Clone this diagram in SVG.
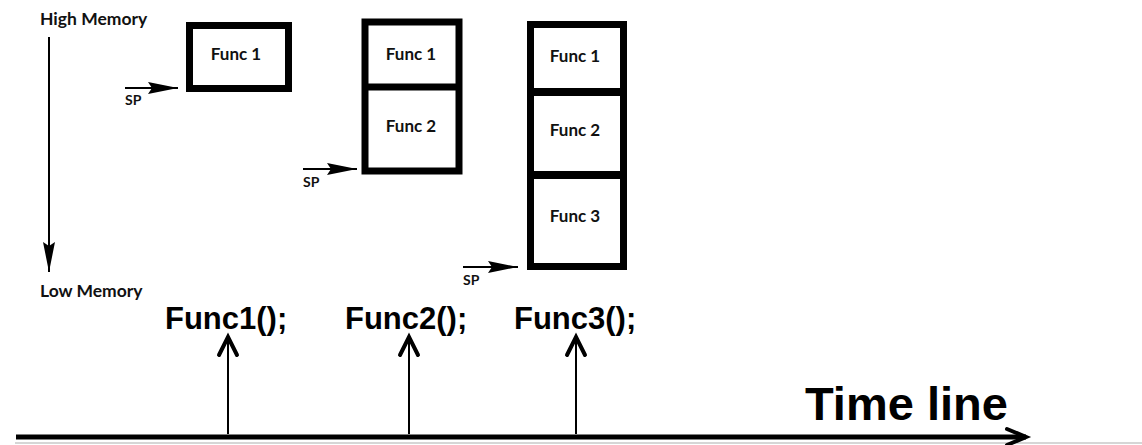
<svg xmlns="http://www.w3.org/2000/svg" width="1142" height="445" viewBox="0 0 1142 445">
<style>
.lbl{font-family:Lato,"Open Sans","Liberation Sans",sans-serif;font-weight:bold;fill:#111;}
.mem{font-size:17.5px;}
.fn{font-size:17px;text-anchor:middle;}
.sp{font-size:14px;}
.big{font-family:"Liberation Sans",Arial,sans-serif;font-weight:bold;fill:#000;}
.box{fill:#fff;stroke:#000;stroke-width:7;}
.thin{stroke:#000;stroke-width:2;fill:none;}
.chev{stroke:#000;stroke-width:4;fill:none;stroke-linecap:round;stroke-linejoin:miter;}
</style>
<defs>
<marker id="tri2" viewBox="0 0 30 12" refX="30" refY="6" markerWidth="30" markerHeight="12" markerUnits="userSpaceOnUse" orient="auto">
<path d="M0,0 L30,6 L0,12 L4,6 z" fill="#000"/>
</marker>
</defs>
<rect width="1142" height="445" fill="#fff"/>
<line x1="15" y1="443" x2="1142" y2="443" stroke="#c8c8c8" stroke-width="1.5"/>

<g id="memory-axis">
<text class="lbl mem" x="40" y="25">High Memory</text>
<text class="lbl mem" x="40" y="297">Low Memory</text>
</g>

<g id="stack1">
<rect class="box" x="189.5" y="25.5" width="99" height="63"/>
<text class="lbl fn" x="236" y="60">Func 1</text>
</g>

<g id="stack2">
<rect class="box" x="365" y="22" width="94" height="149"/>
<line x1="365" y1="87" x2="459" y2="87" stroke="#000" stroke-width="7"/>
<text class="lbl fn" x="411" y="60">Func 1</text>
<text class="lbl fn" x="411" y="132">Func 2</text>
</g>

<g id="stack3">
<rect class="box" x="530.5" y="24.5" width="93" height="242"/>
<line x1="530" y1="92" x2="624" y2="92" stroke="#000" stroke-width="8"/>
<line x1="530" y1="175" x2="624" y2="175" stroke="#000" stroke-width="8"/>
<text class="lbl fn" x="575" y="62">Func 1</text>
<text class="lbl fn" x="575" y="136">Func 2</text>
<text class="lbl fn" x="575" y="222">Func 3</text>
</g>

<g id="sp-labels">
<text class="lbl sp" x="125" y="105">SP</text>
<text class="lbl sp" x="303" y="187">SP</text>
<text class="lbl sp" x="463" y="285">SP</text>
</g>

<g id="calls">
<text class="big" x="165" y="329" font-size="31">Func1();</text>
<text class="big" x="345" y="329" font-size="31">Func2();</text>
<text class="big" x="514" y="329" font-size="31">Func3();</text>
<text class="big" x="805" y="420" font-size="47">Time line</text>
</g>

<g id="connectors">
<line class="thin" x1="49" y1="37" x2="49" y2="272" marker-end="url(#tri2)"/>
<line class="thin" x1="125" y1="88" x2="178" y2="88" marker-end="url(#tri2)"/>
<line class="thin" x1="303" y1="169" x2="357" y2="169" marker-end="url(#tri2)"/>
<line class="thin" x1="463" y1="267" x2="518" y2="267" marker-end="url(#tri2)"/>
<line x1="16" y1="437" x2="1026" y2="437" stroke="#000" stroke-width="5"/>
<polyline class="chev" points="1007,429 1026,437 1007,445" stroke-width="4"/>
<line class="thin" x1="228" y1="434" x2="228" y2="337"/>
<polyline class="chev" points="219,355 228,337 237,355"/>
<line class="thin" x1="409" y1="434" x2="409" y2="337"/>
<polyline class="chev" points="400,355 409,337 418,355"/>
<line class="thin" x1="576" y1="434" x2="576" y2="337"/>
<polyline class="chev" points="567,355 576,337 585,355"/>
</g>
</svg>
